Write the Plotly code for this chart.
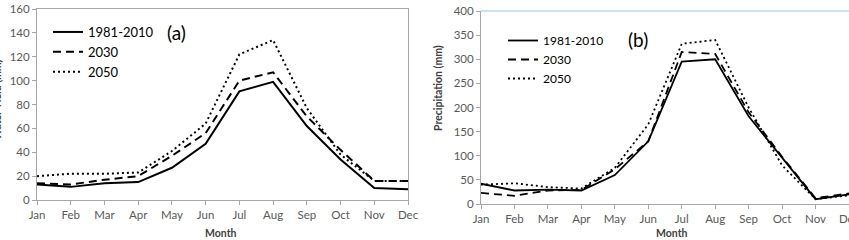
import plotly.graph_objects as go

months = ["Jan", "Feb", "Mar", "Apr", "May", "Jun", "Jul", "Aug", "Sep", "Oct", "Nov", "Dec"]
series_names = ["1981-2010", "2030", "2050"]

# (a) Water yield (mm)
wy_1981 = [13, 11, 14, 15, 27, 47, 91, 99, 62, 34, 10, 9]
wy_2030 = [14, 13, 17, 20, 37, 56, 100, 107, 70, 42, 16, 16]
wy_2050 = [20, 22, 22, 23, 41, 64, 122, 134, 77, 38, 16, 16]

# (b) Precipitation (mm)
pr_1981 = [42, 28, 30, 28, 60, 130, 295, 300, 182, 97, 10, 20]
pr_2030 = [23, 17, 28, 29, 72, 130, 315, 311, 190, 98, 12, 22]
pr_2050 = [40, 43, 35, 32, 75, 165, 332, 340, 200, 80, 10, 18]

W, H = 849, 240
FONT = "Lato"
dashes = ["solid", "8px,5px", "2px,3px"]

fig = go.Figure()
for name, vals, d in zip(series_names, [wy_1981, wy_2030, wy_2050], dashes):
    fig.add_trace(go.Scatter(x=months, y=vals, name=name, mode="lines",
                             line=dict(color="black", width=2, dash=d),
                             xaxis="x", yaxis="y", legend="legend"))
for name, vals, d in zip(series_names, [pr_1981, pr_2030, pr_2050], dashes):
    fig.add_trace(go.Scatter(x=months, y=vals, name=name, mode="lines",
                             line=dict(color="black", width=1.8, dash=d),
                             xaxis="x2", yaxis="y2", legend="legend2"))

def px(v):
    return v / W
def py(v):
    return 1 - v / H

axcol = "#a6a6a6"
tickfont = dict(family=FONT, size=11.5, color="#595959")

common = dict(showline=True, linecolor=axcol, linewidth=1, ticks="outside",
              ticklen=4, tickcolor=axcol, tickfont=tickfont, showgrid=False,
              zeroline=False, automargin=False)

fig.update_layout(
    width=W, height=H,
    margin=dict(l=0, r=0, t=0, b=0, autoexpand=False),
    paper_bgcolor="white", plot_bgcolor="white",
    font=dict(family=FONT, color="black"),
    xaxis=dict(domain=[px(37), px(408)], type="category", range=[0, 11],
               mirror=True, anchor="y", **common),
    yaxis=dict(domain=[py(200), py(9)], range=[0, 160], dtick=20,
               mirror=True, anchor="x", **common),
    xaxis2=dict(domain=[px(481), 1], type="category", range=[0, 11],
                anchor="y2", **common),
    yaxis2=dict(domain=[py(204), py(11)], range=[0, 400], dtick=50,
                anchor="x2", **common),
    legend=dict(x=px(48), y=py(17), xanchor="left", yanchor="top",
                bgcolor="rgba(0,0,0,0)", font=dict(family=FONT, size=13),
                tracegroupgap=0, itemwidth=30),
    legend2=dict(x=px(503), y=py(26), xanchor="left", yanchor="top",
                 bgcolor="rgba(0,0,0,0)", font=dict(family=FONT, size=12),
                 tracegroupgap=0, itemwidth=30),
    showlegend=True,
)

def ann(text, x, y, size, color="black", angle=0):
    return dict(text=text, x=px(x), y=py(y), xref="paper", yref="paper",
                xanchor="center", yanchor="middle", textangle=angle,
                showarrow=False, font=dict(family=FONT, size=size, color=color))

annotations = [
    ann("(a)", 176, 33, 19),
    ann("(b)", 638, 40, 19),
    ann("<b>Month</b>", 221, 233, 10.5, "#404040"),
    ann("<b>Month</b>", 672, 233, 10.5, "#404040"),
    ann("<b>Water Yield (mm)</b>", -3, 100, 10.5, "#404040", -90),
    ann("<b>Precipitation (mm)</b>", 438, 88, 10.5, "#404040", -90),
]
fig.update_layout(annotations=annotations)

# light blue top border on panel (b)
fig.add_shape(type="line", xref="x2 domain", yref="y2 domain", x0=0, x1=1, y0=1, y1=1,
              line=dict(color="#bdd7ee", width=1.5))

fig.write_html("out.html")
